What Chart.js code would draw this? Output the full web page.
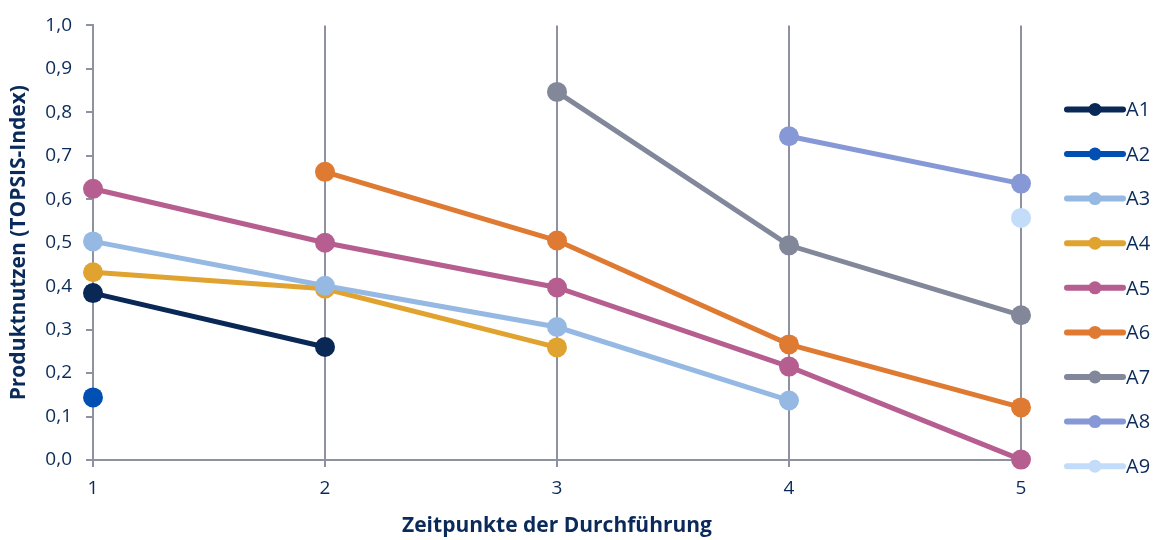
<!DOCTYPE html>
<html>
<head>
<meta charset="utf-8">
<script src="https://cdn.jsdelivr.net/npm/chart.js@4/dist/chart.umd.min.js"></script>
<style>
  html, body { margin: 0; padding: 0; background: #fff; }
  #wrap { width: 1160px; height: 540px; }
</style>
</head>
<body>
<div id="wrap"><canvas id="topsisChart"></canvas></div>
<script>
// Daten
const zeitpunkte = ['1', '2', '3', '4', '5'];
const serienNamen = ['A1', 'A2', 'A3', 'A4', 'A5', 'A6', 'A7', 'A8', 'A9'];
const werteA1 = [0.384, 0.260, null, null, null];
const werteA2 = [0.144, null, null, null, null];
const werteA3 = [0.503, 0.401, 0.306, 0.137, null];
const werteA4 = [0.432, 0.394, 0.259, null, null];
const werteA5 = [0.624, 0.500, 0.397, 0.215, 0.001];
const werteA6 = [null, 0.663, 0.505, 0.266, 0.121];
const werteA7 = [null, null, 0.847, 0.494, 0.333];
const werteA8 = [null, null, null, 0.745, 0.636];
const werteA9 = [null, null, null, null, 0.557];
const yTicks = [0, 0.1, 0.2, 0.3, 0.4, 0.5, 0.6, 0.7, 0.8, 0.9, 1.0];

const farben = ['#0a2856', '#0050b4', '#95b9e3', '#e0a330', '#b65e90', '#df7a32', '#82889a', '#8699d6', '#c3dcfa'];
const alleWerte = [werteA1, werteA2, werteA3, werteA4, werteA5, werteA6, werteA7, werteA8, werteA9];

const textFarbe = '#0a2a5a';
const achsenFarbe = '#8e91a1';
const schrift = "'Open Sans', 'Noto Sans', sans-serif";
const fmtKomma = (v) => Number(v).toFixed(1).replace('.', ',');

// Legende: Linie mit Punkt, rechts neben dem Diagramm
const legendePlugin = {
    id: 'linienLegende',
    afterDraw(chart) {
        const { ctx, chartArea } = chart;
        const x0 = chartArea.right + 46;
        ctx.save();
        chart.data.datasets.forEach((ds, i) => {
            const y = chartArea.top + 84 + i * 44.6;
            ctx.strokeStyle = ds.borderColor;
            ctx.lineWidth = 6;
            ctx.lineCap = 'round';
            ctx.beginPath();
            ctx.moveTo(x0, y);
            ctx.lineTo(x0 + 56, y);
            ctx.stroke();
            ctx.fillStyle = ds.borderColor;
            ctx.beginPath();
            ctx.arc(x0 + 28, y, 6.5, 0, Math.PI * 2);
            ctx.fill();
            ctx.fillStyle = textFarbe;
            ctx.font = `20px ${schrift}`;
            ctx.textBaseline = 'middle';
            ctx.fillText(ds.label, x0 + 59, y + 1);
        });
        ctx.restore();
    }
};

new Chart(document.getElementById('topsisChart'), {
    type: 'line',
    data: {
        labels: zeitpunkte,
        datasets: serienNamen.map((name, i) => ({
            label: name,
            data: alleWerte[i],
            borderColor: farben[i],
            backgroundColor: farben[i],
            borderWidth: 5,
            pointRadius: 10,
            pointHoverRadius: 10,
            pointBorderWidth: 0,
            tension: 0,
            spanGaps: false,
            clip: false
        }))
    },
    options: {
        responsive: true,
        maintainAspectRatio: false,
        animation: false,
        layout: { padding: { top: 22, right: 139, bottom: 0, left: 0 } },
        plugins: { legend: { display: false }, tooltip: { enabled: false } },
        scales: {
            x: {
                offset: false,
                afterFit: (s) => { s.height = 80; },
                grid: { color: achsenFarbe, lineWidth: 2, tickLength: 7, drawOnChartArea: true },
                border: { color: achsenFarbe, width: 2 },
                ticks: { color: textFarbe, font: { family: schrift, size: 19 }, padding: 10, maxRotation: 0 },
                title: {
                    display: true,
                    text: 'Zeitpunkte der Durchführung',
                    color: textFarbe,
                    font: { family: schrift, size: 21, weight: 'bold' },
                    padding: { top: 0, bottom: 1 }
                }
            },
            y: {
                min: 0,
                max: 1,
                afterFit: (s) => { s.width = 93; },
                afterBuildTicks: (s) => { s.ticks = yTicks.map(v => ({ value: v })); },
                grid: { color: achsenFarbe, lineWidth: 2, tickLength: 7, drawOnChartArea: false },
                border: { color: achsenFarbe, width: 2 },
                ticks: { color: textFarbe, font: { family: schrift, size: 19 }, padding: 14, callback: (v) => fmtKomma(v) },
                title: {
                    display: true,
                    text: 'Produktnutzen (TOPSIS-Index)',
                    color: textFarbe,
                    font: { family: schrift, size: 21, weight: 'bold' },
                    padding: { top: 6, bottom: 0 }
                }
            }
        }
    },
    plugins: [legendePlugin]
});
</script>
</body>
</html>
